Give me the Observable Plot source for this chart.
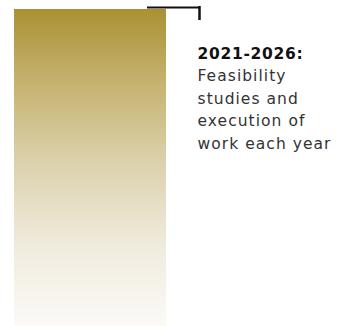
<!DOCTYPE html>
<html>
<head>
<meta charset="utf-8">
<script src="https://cdn.jsdelivr.net/npm/d3@7"></script>
<script src="https://cdn.jsdelivr.net/npm/@observablehq/plot@0.6"></script>
<style>
  html, body { margin: 0; padding: 0; background: #fff; }
  #chart { width: 338px; height: 326px; }
</style>
</head>
<body>
<div id="chart"></div>
<script>
// Phase of the timeline
const phaseTitles = ["2021-2026:"];
const phaseDescriptions = ["Feasibility\nstudies and\nexecution of\nwork each year"];
const phaseStarts = [2021];
const phaseEnds = [2026];
// Gradient colours of the fading bar (top -> bottom)
const gradientStops = ["#aa9133", "#c7b574", "#ddd3b0", "#f0ebde", "#fbfaf7"];

const phases = phaseTitles.map((t, i) => ({
  title: t, desc: phaseDescriptions[i], start: phaseStarts[i], end: phaseEnds[i]
}));

const plot = Plot.plot({
  width: 338,
  height: 326,
  margin: 0,
  x: {type: "linear", domain: [0, 338], range: [0, 338], axis: null},
  y: {type: "linear", domain: [2021, 2026], range: [9, 326], axis: null},
  style: {fontFamily: "DejaVu Sans", background: "#fff"},
  marks: [
    Plot.rect(phases, {x1: () => 14, x2: () => 166, y1: "start", y2: "end", fill: "url(#fade)"}),
    Plot.ruleY(phases, {y: "start", x1: () => 147, x2: () => 200, dy: -2, stroke: "#111", strokeWidth: 2}),
    Plot.ruleX(phases, {x: () => 199, y1: "start", y2: "start", insetTop: -3, insetBottom: -11, stroke: "#111", strokeWidth: 2.5}),
    Plot.text(phases, {x: () => 197, y: "start", text: "title", textAnchor: "start", lineAnchor: "bottom",
      dy: 49, fontSize: 15.5, fontWeight: "bold", fill: "#111"}),
    Plot.text(phases, {x: () => 197, y: "start", text: "desc", textAnchor: "start", lineAnchor: "bottom",
      dy: 139, fontSize: 15.5, lineHeight: 1.45, fill: "#333"})
  ]
});

const svg = d3.select(plot);
const defs = svg.insert("defs", ":first-child");
const grad = defs.append("linearGradient").attr("id", "fade")
  .attr("x1", 0).attr("y1", 0).attr("x2", 0).attr("y2", 1);
gradientStops.forEach((c, i) => {
  grad.append("stop").attr("offset", i / (gradientStops.length - 1)).attr("stop-color", c);
});
svg.selectAll("text").attr("letter-spacing", function () {
  return d3.select(this.closest("g")).attr("font-weight") === "bold" ? "0.7px" : "1.05px";
});

document.getElementById("chart").appendChild(plot);
</script>
</body>
</html>
